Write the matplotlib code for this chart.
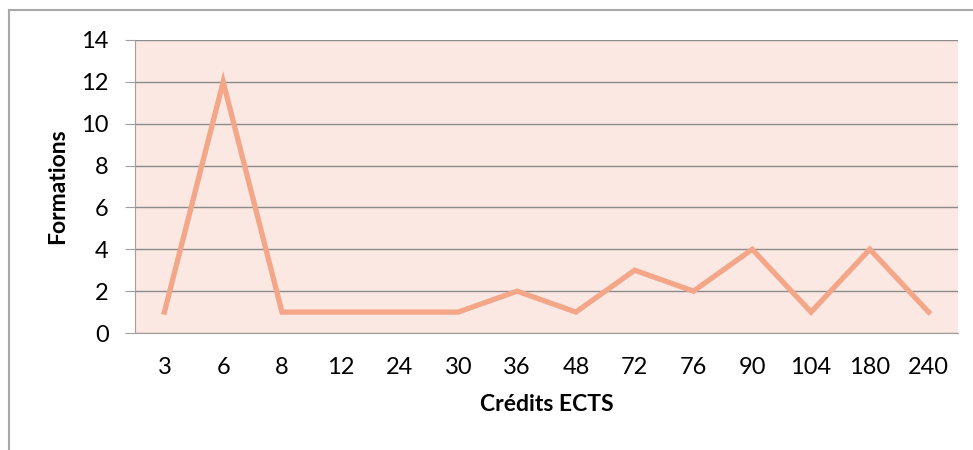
import matplotlib.pyplot as plt
from matplotlib.lines import Line2D

credits = ['3', '6', '8', '12', '24', '30', '36', '48', '72', '76', '90', '104', '180', '240']
formations = [1, 12, 1, 1, 1, 1, 2, 1, 3, 2, 4, 1, 4, 1]

plt.rcParams['font.family'] = ['Lato', 'DejaVu Sans']

W, H = 973, 450
fig = plt.figure(figsize=(W / 100, H / 100), dpi=100)
ax = fig.add_axes([135 / W, 1 - 333 / H, (958 - 135) / W, (333 - 40) / H])

ax.set_facecolor('#FBE8E3')
ax.plot(range(len(credits)), formations, color='#F4A689', lw=3.8,
        solid_joinstyle='miter', zorder=3)

ax.set_xlim(-0.5, len(credits) - 0.5)
ax.set_ylim(0, 14)
ax.set_yticks(range(0, 15, 2))
ax.set_xticks(range(len(credits)))
ax.set_xticklabels(credits)
ax.grid(axis='y', color='#8C8C8C', lw=1)
ax.set_axisbelow(True)

for s in ['top', 'right']:
    ax.spines[s].set_visible(False)
for s in ['left', 'bottom']:
    ax.spines[s].set_color('#A0A0A0')
ax.tick_params(axis='y', length=7, color='#A0A0A0', labelsize=17, pad=12)
ax.tick_params(axis='x', length=0, labelsize=17, pad=17)

ax.set_xlabel('Crédits ECTS', fontsize=16.5, fontweight='bold', labelpad=12)
ax.set_ylabel('Formations', fontsize=16.5, fontweight='bold', labelpad=9)

# chart frame (left and top edges visible)
fig.add_artist(Line2D([9 / W, 9 / W], [0, 1 - 10 / H], color='#A8A8A8', lw=1.5))
fig.add_artist(Line2D([9 / W, 1], [1 - 10 / H, 1 - 10 / H], color='#A8A8A8', lw=1.5))

fig.savefig('out.png', dpi=100)
